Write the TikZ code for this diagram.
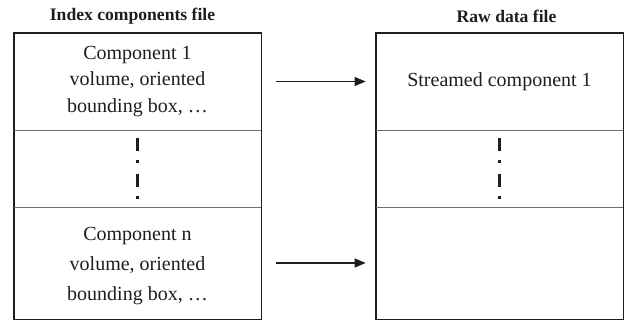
\documentclass[tikz,border=0pt]{standalone}
\usepackage{fontspec}
\setmainfont{Liberation Serif}
\usetikzlibrary{arrows.meta, positioning}
\definecolor{ink}{HTML}{1E1E1E}
\definecolor{rule}{HTML}{6E6E6E}

\begin{document}
\begin{tikzpicture}[x=0.5pt, y=-0.5pt,
    cell/.style={minimum width=123.5pt, minimum height=#1, inner sep=0pt, align=center, text=ink},
    heading/.style={font=\fontsize{8.8}{10}\selectfont\bfseries, text=ink},
    frame/.style={line width=0.9pt, ink},
    sep/.style={line width=0.6pt, rule},
    vdots/.style={line width=1.4pt, ink, dash pattern=on 6.5pt off 4.75pt on 1.5pt off 5.25pt, shorten <=4pt, shorten >=4pt},
    arr/.style={-{Triangle[length=5.5pt, width=4.5pt]}, line width=0.65pt, ink, shorten <=7.5pt, shorten >=5pt},
]
\useasboundingbox (0,0) rectangle (624,321);

% Titles
\node[heading] (ltitle) at (132.5,16) {Index components file};
\node[heading] (rtitle) at (506.5,16) {Raw data file};

% Index components file
\node[cell=48.5pt, font=\fontsize{10}{13.3}\selectfont] (comp1) at (137.5,81.5) {Component 1\\volume, oriented\\bounding box, \dots};
\node[cell=38.5pt] (ldots) at (137.5,168.5) {};
\node[cell=56pt] (compn) at (137.5,263) {};
\node[font=\fontsize{10}{15}\selectfont, align=center, text=ink] (compntxt) at (137.5,266) {Component n\\volume, oriented\\bounding box, \dots};

\draw[frame] (comp1.north west) rectangle (compn.south east);
\draw[sep] (comp1.south west) -- (comp1.south east);
\draw[sep] (ldots.south west) -- (ldots.south east);
\draw[vdots] (ldots.north) -- (ldots.south);

% Raw data file
\node[cell=48.5pt, font=\fontsize{10}{13.3}\selectfont] (stream1) at (499.5,81.5) {Streamed component 1};
\node[cell=38.5pt] (rdots) at (499.5,168.5) {};
\node[cell=56pt] (streamn) at (499.5,263) {};

\draw[frame] (stream1.north west) rectangle (streamn.south east);
\draw[sep] (stream1.south west) -- (stream1.south east);
\draw[sep] (rdots.south west) -- (rdots.south east);
\draw[vdots] (rdots.north) -- (rdots.south);

% Links
\draw[arr] (comp1.east) -- (stream1.west);
\draw[arr] (compn.east) -- (streamn.west);

\end{tikzpicture}
\end{document}
